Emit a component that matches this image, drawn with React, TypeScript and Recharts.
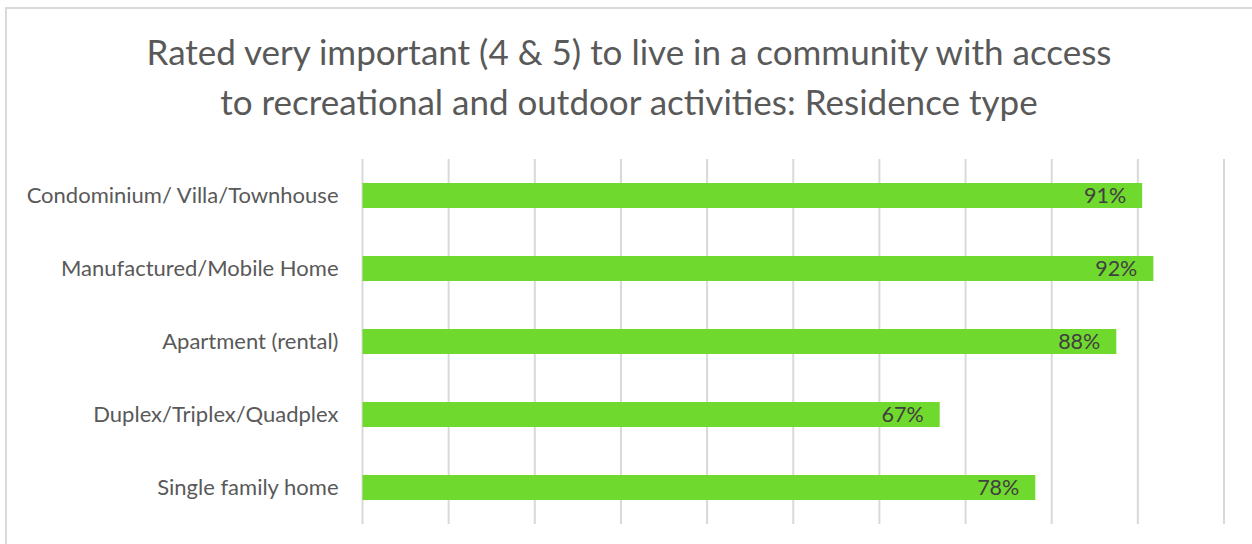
import React from "react";
import { BarChart, Bar, XAxis, YAxis, CartesianGrid, LabelList } from "recharts";

const categories = [
  "Condominium/ Villa/Townhouse",
  "Manufactured/Mobile Home",
  "Apartment (rental)",
  "Duplex/Triplex/Quadplex",
  "Single family home",
];
const values = [90.5, 91.8, 87.5, 67.0, 78.1];
const xTicks = [0, 10, 20, 30, 40, 50, 60, 70, 80, 90, 100];
const titleLines = [
  "Rated very important (4 & 5) to live in a community with access",
  "to recreational and outdoor activities: Residence type",
];

const data = categories.map((name, i) => ({ name, value: values[i] }));

const FONT = "Lato, 'Open Sans', sans-serif";

export default function App() {
  return (
    <div style={{ position: "relative", width: 1252, height: 544, overflow: "hidden", background: "#fff", fontFamily: FONT }}>
      <style>{`body{margin:0}`}</style>
      <div
        style={{
          position: "absolute",
          left: 5,
          top: 7,
          width: 1400,
          height: 700,
          border: "2px solid #d9d9d9",
          boxSizing: "border-box",
        }}
      />
      <svg width={1252} height={140} style={{ position: "absolute", left: 0, top: 0 }}>
        {titleLines.map((t, i) => (
          <text
            key={i}
            x={629}
            y={65 + i * 50}
            textAnchor="middle"
            fill="#595959"
            fontSize={35}
            fontFamily={FONT}
          >
            {t}
          </text>
        ))}
      </svg>
      <div style={{ position: "absolute", left: 0, top: 0 }}>
        <BarChart
          width={1252}
          height={544}
          data={data}
          layout="vertical"
          margin={{ top: 159, right: 28, bottom: 20, left: 22.5 }}
          barCategoryGap={0}
        >
          <CartesianGrid horizontal={false} stroke="#d9d9d9" strokeWidth={2} />
          <XAxis type="number" domain={[0, 100]} ticks={xTicks} hide />
          <YAxis
            type="category"
            dataKey="name"
            width={340}
            axisLine={false}
            tickLine={false}
            tickSize={0}
            tickMargin={24}
            tick={{ fill: "#595959", fontSize: 22, fontFamily: FONT }}
          />
          <Bar dataKey="value" fill="#70D92E" barSize={25} isAnimationActive={false}>
            <LabelList
              dataKey="value"
              position="insideRight"
              offset={16}
              formatter={(v: number) => `${Math.round(v)}%`}
              fill="#404040"
              fontSize={21.5}
              fontFamily={FONT}
            />
          </Bar>
        </BarChart>
      </div>
    </div>
  );
}
